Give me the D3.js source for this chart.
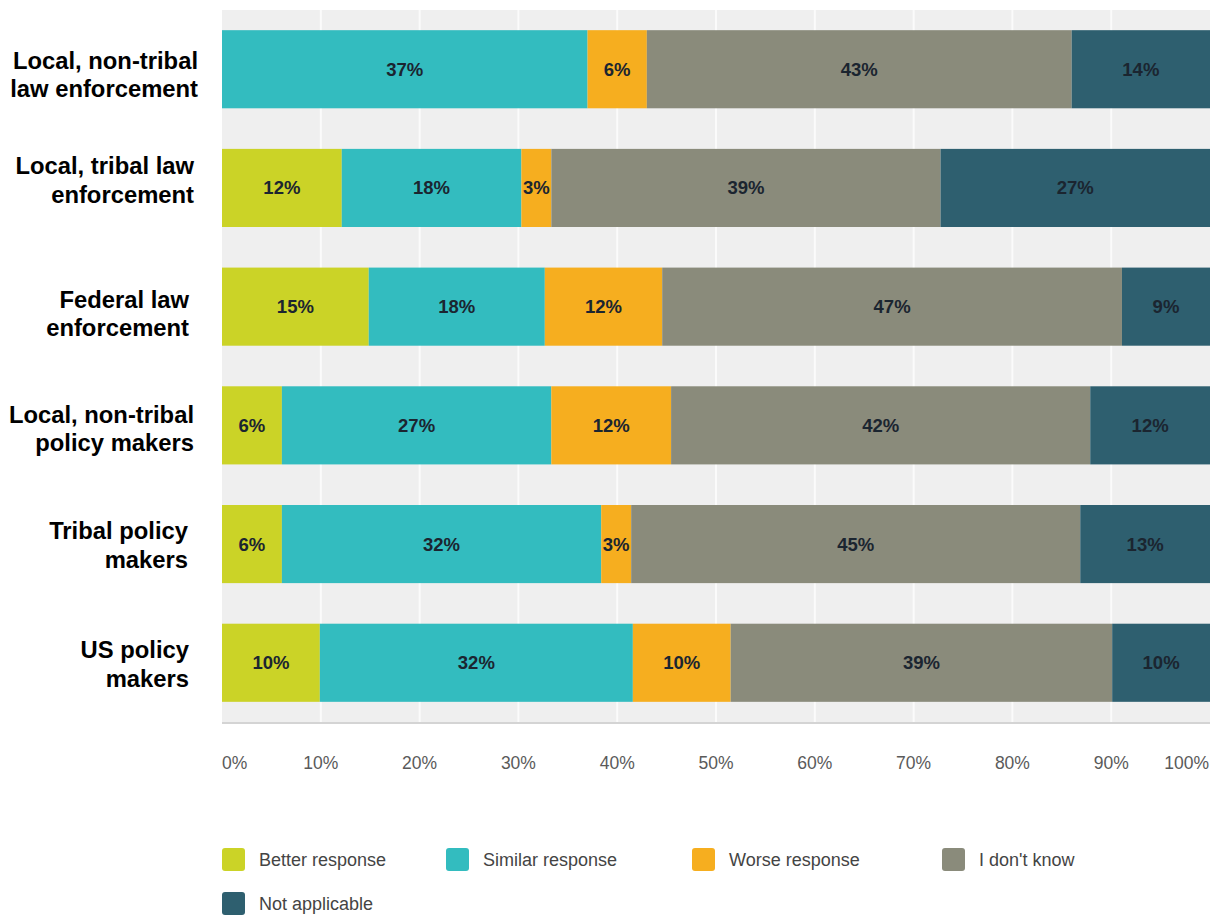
<!DOCTYPE html>
<html>
<head>
<meta charset="utf-8">
<script src="https://cdn.jsdelivr.net/npm/d3@7"></script>
<style>
  html, body { margin: 0; padding: 0; background: #fff; }
  svg { display: block; font-family: Arial, "Liberation Sans", sans-serif; }
</style>
</head>
<body>
<svg id="chart" width="1218" height="921"></svg>
<script>
// Survey groups, one bar each (label lines split for display)
const groups = [
  ["Local, non-tribal", "law enforcement"],
  ["Local, tribal law", "enforcement"],
  ["Federal law", "enforcement"],
  ["Local, non-tribal", "policy makers"],
  ["Tribal policy", "makers"],
  ["US policy", "makers"]
];
const seriesNames = ["Better response", "Similar response", "Worse response", "I don't know", "Not applicable"];
const betterResponse  = [0, 12, 15, 6, 6, 10];
const similarResponse = [37, 18, 18, 27, 32, 32];
const worseResponse   = [6, 3, 12, 12, 3, 10];
const dontKnow        = [43, 39, 47, 42, 45, 39];
const notApplicable   = [14, 27, 9, 12, 13, 10];
const tickValues = [0, 0.1, 0.2, 0.3, 0.4, 0.5, 0.6, 0.7, 0.8, 0.9, 1];
const colors = ["#cbd327", "#33bcbf", "#f6ae1f", "#8a8b7b", "#2e5f6f"];

// layout tweaks for the hand-placed category labels and legend columns
const labelRight = [198, 194, 189, 194, 188, 189];
const labelShift = [2, -11, 4, 0, -2, -2];
const legendCols = [222, 446, 692, 942];

const seriesValues = [betterResponse, similarResponse, worseResponse, dontKnow, notApplicable];
const rows = groups.map((g, i) => {
  const r = { key: i };
  seriesNames.forEach((s, j) => { r[s] = seriesValues[j][i]; });
  return r;
});

const svg = d3.select("#chart");
const plotLeft = 222, plotRight = 1210, plotTop = 10, plotBottom = 722;

const x = d3.scaleLinear().domain([0, 1]).range([plotLeft, plotRight]);
const y = d3.scaleBand().domain(d3.range(groups.length)).range([plotTop, plotBottom])
  .paddingInner(0.342).paddingOuter(0.17);
const color = d3.scaleOrdinal().domain(seriesNames).range(colors);

// each row is shown as shares of its own total
const stacked = d3.stack().keys(seriesNames).offset(d3.stackOffsetExpand)(rows);

// plot background and vertical grid
svg.append("rect").attr("x", plotLeft).attr("y", plotTop)
  .attr("width", plotRight - plotLeft).attr("height", plotBottom - plotTop).attr("fill", "#efefef");
svg.append("g").selectAll("line").data(tickValues.slice(1, -1)).join("line")
  .attr("x1", d => x(d)).attr("x2", d => x(d))
  .attr("y1", plotTop).attr("y2", plotBottom)
  .attr("stroke", "#fbfbfb").attr("stroke-width", 2);
svg.append("line").attr("x1", plotLeft).attr("x2", plotRight)
  .attr("y1", plotBottom + 1).attr("y2", plotBottom + 1)
  .attr("stroke", "#d4d4d4").attr("stroke-width", 2);

// stacked bars
const layers = svg.append("g").selectAll("g").data(stacked).join("g")
  .attr("fill", d => color(d.key));
layers.selectAll("rect").data(d => d.map(p => ({ p, key: d.key }))).join("rect")
  .attr("x", d => x(d.p[0]))
  .attr("y", d => y(d.p.data.key))
  .attr("width", d => x(d.p[1]) - x(d.p[0]))
  .attr("height", y.bandwidth());

// value labels inside segments
const labels = svg.append("g").attr("font-weight", "bold").attr("font-size", 18.5)
  .attr("fill", "#1b2530").attr("text-anchor", "middle");
stacked.forEach(layer => {
  layer.forEach(p => {
    const v = p.data[layer.key];
    if (!v) return;
    labels.append("text")
      .attr("x", x((p[0] + p[1]) / 2))
      .attr("y", y(p.data.key) + y.bandwidth() / 2)
      .attr("dy", "0.35em")
      .text(v + "%");
  });
});

// category labels
const cat = svg.append("g").attr("font-weight", "bold").attr("font-size", 23.8)
  .attr("fill", "#000").attr("text-anchor", "end");
groups.forEach((lines, i) => {
  const cy = y(i) + y.bandwidth() / 2 + 3 + labelShift[i];
  const t = cat.append("text");
  lines.forEach((ln, k) => {
    t.append("tspan").attr("x", labelRight[i]).attr("y", cy - 14 + k * 28.5)
      .attr("dy", "0.35em").text(ln);
  });
});

// x axis labels
const fmt = d3.format(".0%");
const last = tickValues.length - 1;
const xAxis = svg.append("g").attr("font-size", 17.5).attr("fill", "#5a5a5a");
xAxis.selectAll("text").data(tickValues).join("text")
  .attr("x", (d, i) => i === last ? x(d) - 1 : x(d))
  .attr("y", 763).attr("dy", "0.35em")
  .attr("text-anchor", (d, i) => i === 0 ? "start" : i === last ? "end" : "middle")
  .text(d => fmt(d));

// legend: four columns, remaining entries wrap to a second line
const legend = svg.append("g").attr("font-size", 18).attr("fill", "#444");
seriesNames.forEach((name, i) => {
  const col = i % legendCols.length, row = Math.floor(i / legendCols.length);
  const item = legend.append("g")
    .attr("transform", `translate(${legendCols[col]},${848 + row * 44})`);
  item.append("rect").attr("width", 23).attr("height", 23).attr("rx", 3)
    .attr("fill", color(name));
  item.append("text").attr("x", 37).attr("y", 11.5).attr("dy", "0.35em").text(name);
});
</script>
</body>
</html>
